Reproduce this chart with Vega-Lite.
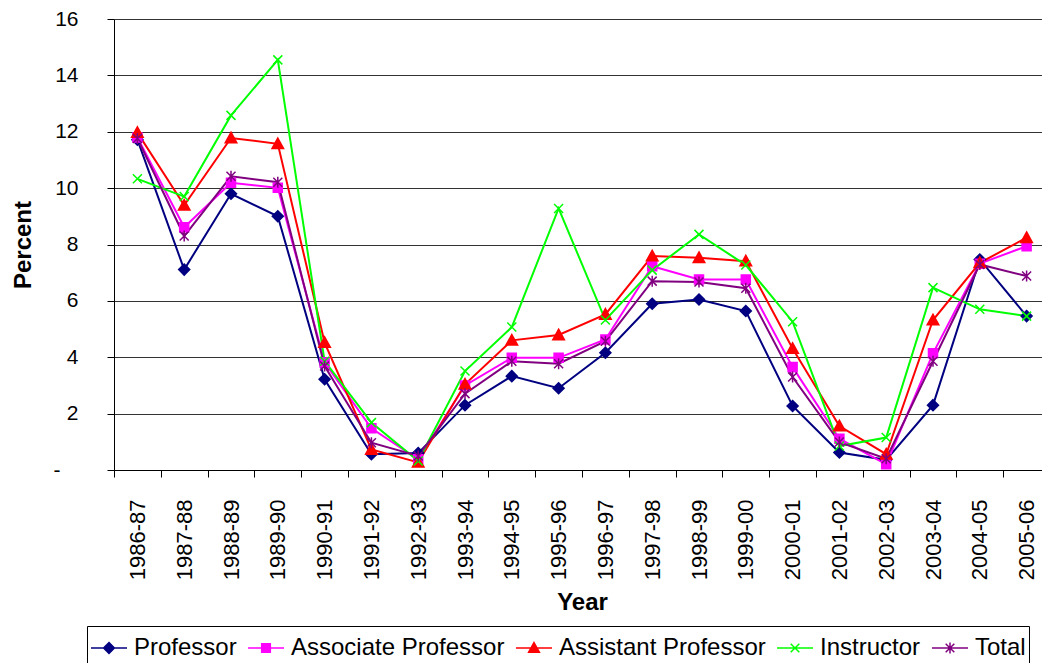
{
  "$schema": "https://vega.github.io/schema/vega-lite/v6.json",
  "width": 936,
  "height": 451,
  "autosize": {"type": "none"},
  "padding": {"left": 114, "top": 19, "right": 0, "bottom": 193},
  "background": "white",
  "config": {"view": {"stroke": null}, "font": "Liberation Sans"},
  "data": {"values": [
    {"year": "1986-87", "Professor": 11.72, "Associate Professor": 11.8, "Assistant Professor": 11.97, "Instructor": 10.33, "Total": 11.76},
    {"year": "1987-88", "Professor": 7.11, "Associate Professor": 8.61, "Assistant Professor": 9.39, "Instructor": 9.7, "Total": 8.3},
    {"year": "1988-89", "Professor": 9.8, "Associate Professor": 10.19, "Assistant Professor": 11.78, "Instructor": 12.58, "Total": 10.42},
    {"year": "1989-90", "Professor": 9.0, "Associate Professor": 10.01, "Assistant Professor": 11.57, "Instructor": 14.55, "Total": 10.21},
    {"year": "1990-91", "Professor": 3.22, "Associate Professor": 3.81, "Assistant Professor": 4.52, "Instructor": 3.86, "Total": 3.69},
    {"year": "1991-92", "Professor": 0.56, "Associate Professor": 1.48, "Assistant Professor": 0.73, "Instructor": 1.68, "Total": 0.97},
    {"year": "1992-93", "Professor": 0.6, "Associate Professor": 0.38, "Assistant Professor": 0.27, "Instructor": 0.32, "Total": 0.5},
    {"year": "1993-94", "Professor": 2.3, "Associate Professor": 3.0, "Assistant Professor": 3.04, "Instructor": 3.51, "Total": 2.71},
    {"year": "1994-95", "Professor": 3.33, "Associate Professor": 3.98, "Assistant Professor": 4.6, "Instructor": 5.07, "Total": 3.86},
    {"year": "1995-96", "Professor": 2.9, "Associate Professor": 3.98, "Assistant Professor": 4.79, "Instructor": 9.28, "Total": 3.77},
    {"year": "1996-97", "Professor": 4.16, "Associate Professor": 4.63, "Assistant Professor": 5.52, "Instructor": 5.32, "Total": 4.57},
    {"year": "1997-98", "Professor": 5.9, "Associate Professor": 7.23, "Assistant Professor": 7.59, "Instructor": 7.09, "Total": 6.7},
    {"year": "1998-99", "Professor": 6.05, "Associate Professor": 6.76, "Assistant Professor": 7.53, "Instructor": 8.36, "Total": 6.67},
    {"year": "1999-00", "Professor": 5.64, "Associate Professor": 6.76, "Assistant Professor": 7.41, "Instructor": 7.27, "Total": 6.45},
    {"year": "2000-01", "Professor": 2.27, "Associate Professor": 3.65, "Assistant Professor": 4.31, "Instructor": 5.26, "Total": 3.3},
    {"year": "2001-02", "Professor": 0.62, "Associate Professor": 1.11, "Assistant Professor": 1.56, "Instructor": 0.85, "Total": 0.99},
    {"year": "2002-03", "Professor": 0.36, "Associate Professor": 0.2, "Assistant Professor": 0.56, "Instructor": 1.15, "Total": 0.4},
    {"year": "2003-04", "Professor": 2.3, "Associate Professor": 4.14, "Assistant Professor": 5.32, "Instructor": 6.47, "Total": 3.86},
    {"year": "2004-05", "Professor": 7.47, "Associate Professor": 7.32, "Assistant Professor": 7.35, "Instructor": 5.7, "Total": 7.29},
    {"year": "2005-06", "Professor": 5.46, "Associate Professor": 7.94, "Assistant Professor": 8.24, "Instructor": 5.46, "Total": 6.88}
  ]},
  "transform": [
    {"fold": ["Professor", "Associate Professor", "Assistant Professor", "Instructor", "Total"], "as": ["series", "value"]}
  ],
  "encoding": {
    "x": {
      "field": "year", "type": "ordinal", "sort": null,
      "scale": {"type": "band", "paddingInner": 0, "paddingOuter": 0},
      "axis": {
        "title": "Year", "labelAngle": -90, "labelFontSize": 22, "labelFont": "Liberation Sans", "labelColor": "#000",
        "labelPadding": 22, "tickBand": "extent", "ticks": true, "tickSize": 7, "tickColor": "#000", "domainColor": "#000",
        "titleFontSize": 24, "titleFontWeight": "bold", "titlePadding": 11, "titleColor": "#000", "titleFont": "Liberation Sans",
        "grid": false, "labelOverlap": false
      }
    },
    "y": {
      "field": "value", "type": "quantitative",
      "scale": {"domain": [0, 16], "nice": false},
      "axis": {
        "title": "Percent", "values": [0, 2, 4, 6, 8, 10, 12, 14, 16],
        "labelExpr": "datum.value == 0 ? '-' : datum.label",
        "labelPadding": {"condition": {"test": "datum.value == 0", "value": 47}, "value": 29},
        "labelFontSize": 21, "labelFont": "Liberation Sans", "labelColor": "#000",
        "ticks": true, "tickSize": 7, "tickColor": "#000", "domainColor": "#000", "gridColor": "#333", "gridWidth": 1,
        "titleFontSize": 24, "titleFontWeight": "bold", "titlePadding": 18, "titleColor": "#000", "titleFont": "Liberation Sans"
      }
    }
  },
  "layer": [
    {
      "mark": {"type": "line", "strokeWidth": 2},
      "encoding": {
        "color": {"field": "series", "type": "nominal",
          "scale": {"domain": ["Professor", "Associate Professor", "Assistant Professor", "Instructor", "Total"],
                    "range": ["#000080", "#FF00FF", "#FF0000", "#00FF00", "#800080"]},
          "legend": {
            "title": null, "orient": "none", "legendX": -27, "legendY": 607, "direction": "horizontal",
            "symbolSize": 1296, "symbolStrokeWidth": 1.5, "labelFontSize": 24, "labelFont": "Liberation Sans",
            "labelColor": "#000", "labelOffset": 6, "columnPadding": 8, "padding": 3,
            "strokeColor": "#000", "fillColor": "white", "labelLimit": 400,
            "encode": {"symbols": {"update": {
              "shape": {"signal": "datum.value === 'Professor' ? 'M-1,0L1,0M0,-0.3L0.3,0L0,0.3L-0.3,0Z' : datum.value === 'Associate Professor' ? 'M-1,0L1,0M-0.24,-0.24L0.24,-0.24L0.24,0.24L-0.24,0.24Z' : datum.value === 'Assistant Professor' ? 'M-1,0L1,0M0,-0.3L0.3,0.24L-0.3,0.24Z' : datum.value === 'Instructor' ? 'M-1,0L1,0M-0.24,-0.24L0.24,0.24M-0.24,0.24L0.24,-0.24' : 'M-1,0L1,0M-0.24,-0.24L0.24,0.24M-0.24,0.24L0.24,-0.24M0,-0.3L0,0.3'"},
              "size": {"value": 1296},
              "stroke": {"signal": "datum.value === 'Professor' ? '#000080' : datum.value === 'Associate Professor' ? '#FF00FF' : datum.value === 'Assistant Professor' ? '#FF0000' : datum.value === 'Instructor' ? '#00FF00' : '#800080'"},
              "fill": {"signal": "datum.value === 'Professor' ? '#000080' : datum.value === 'Associate Professor' ? '#FF00FF' : datum.value === 'Assistant Professor' ? '#FF0000' : datum.value === 'Instructor' ? '#00FF00' : '#800080'"},
              "opacity": {"value": 1},
              "strokeWidth": {"value": 1.5}
            }}}
          }
        }
      }
    },
    {
      "transform": [{"filter": {"field": "series", "equal": "Professor"}}],
      "mark": {"type": "point", "shape": "M0,-1.1L1.1,0L0,1.1L-1.1,0Z", "fill": "#000080", "stroke": "#000080", "filled": true, "strokeWidth": 1.5, "opacity": 1, "size": 100}
    },
    {
      "transform": [{"filter": {"field": "series", "equal": "Associate Professor"}}],
      "mark": {"type": "point", "shape": "M-0.9,-0.9L0.9,-0.9L0.9,0.9L-0.9,0.9Z", "fill": "#FF00FF", "stroke": "#FF00FF", "filled": true, "strokeWidth": 1.5, "opacity": 1, "size": 100}
    },
    {
      "transform": [{"filter": {"field": "series", "equal": "Assistant Professor"}}],
      "mark": {"type": "point", "shape": "M0,-1.1L1.1,0.9L-1.1,0.9Z", "fill": "#FF0000", "stroke": "#FF0000", "filled": true, "strokeWidth": 1.5, "opacity": 1, "size": 110}
    },
    {
      "transform": [{"filter": {"field": "series", "equal": "Instructor"}}],
      "mark": {"type": "point", "shape": "M-0.9,-0.9L0.9,0.9M-0.9,0.9L0.9,-0.9", "fill": "#00FF00", "stroke": "#00FF00", "filled": true, "strokeWidth": 1.5, "opacity": 1, "size": 100}
    },
    {
      "transform": [{"filter": {"field": "series", "equal": "Total"}}],
      "mark": {"type": "point", "shape": "M-0.9,-0.9L0.9,0.9M-0.9,0.9L0.9,-0.9M0,-1.1L0,1.1", "fill": "#800080", "stroke": "#800080", "filled": true, "strokeWidth": 1.5, "opacity": 1, "size": 100}
    }
  ]
}
